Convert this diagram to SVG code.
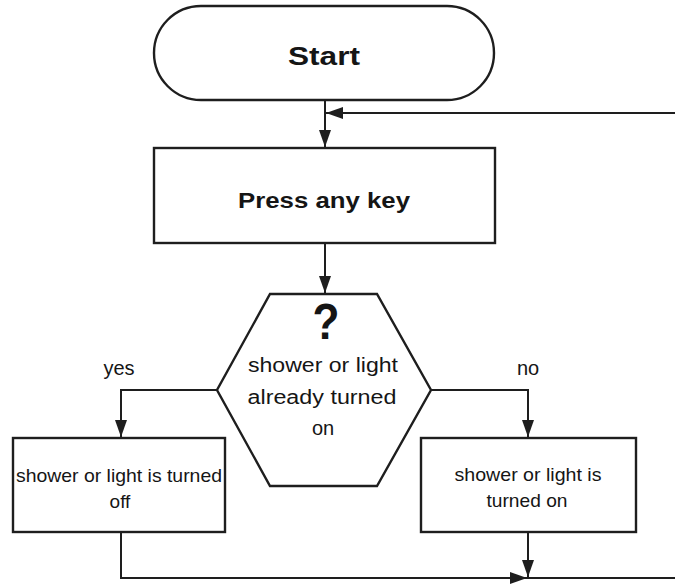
<svg xmlns="http://www.w3.org/2000/svg" width="675" height="586" viewBox="0 0 675 586">
<style>
.s{fill:#fff;stroke:#1e1e1e;stroke-width:2.4}
.c{fill:none;stroke:#1e1e1e;stroke-width:2}
text{font-family:"Liberation Sans",Arial,sans-serif;fill:#151515;text-anchor:middle}
.b{font-weight:bold}
.t{font-size:20px}
.sm{font-size:19px}
</style>
<defs>
<marker id="ah" viewBox="0 0 17 12" refX="17" refY="6" markerWidth="17" markerHeight="12" markerUnits="userSpaceOnUse" orient="auto">
<path d="M0,0L17,6L0,12z" fill="#1e1e1e"/>
</marker>
</defs>
<g id="connectors">
<path class="c" d="M325,100V147" marker-end="url(#ah)"/>
<path class="c" d="M675,113H326" marker-end="url(#ah)"/>
<path class="c" d="M325,243V293" marker-end="url(#ah)"/>
<path class="c" d="M217,390H121V437" marker-end="url(#ah)"/>
<path class="c" d="M431,390H528V437" marker-end="url(#ah)"/>
<path class="c" d="M528,532V577" marker-end="url(#ah)"/>
<path class="c" d="M121,532V578H527" marker-end="url(#ah)"/>
<path class="c" d="M527,578H675"/>
</g>
<g id="start">
<rect class="s" x="154" y="6" width="340" height="94" rx="47"/>
<text class="b" x="324" y="65" font-size="25" textLength="72" lengthAdjust="spacingAndGlyphs">Start</text>
</g>
<g id="press">
<rect class="s" x="154" y="148" width="341" height="95"/>
<text class="b" x="324" y="208" font-size="22" textLength="172" lengthAdjust="spacingAndGlyphs">Press any key</text>
</g>
<g id="decision">
<polygon class="s" points="270,294 377,294 431,390 377,486 270,486 217,390"/>
<text class="b" x="326" y="339" font-size="50" textLength="27" lengthAdjust="spacingAndGlyphs">?</text>
<text class="t" x="323" y="372" textLength="150" lengthAdjust="spacingAndGlyphs">shower or light</text>
<text class="t" x="322" y="404" textLength="149" lengthAdjust="spacingAndGlyphs">already turned</text>
<text class="t" x="323" y="435">on</text>
</g>
<text class="t" x="119" y="375">yes</text>
<text class="t" x="528" y="375">no</text>
<g id="off">
<rect class="s" x="13" y="438" width="212" height="94"/>
<text class="sm" x="119" y="482" textLength="206" lengthAdjust="spacingAndGlyphs">shower or light is turned</text>
<text class="sm" x="120" y="508">off</text>
</g>
<g id="on">
<rect class="s" x="421" y="438" width="215" height="94"/>
<text class="sm" x="528" y="481" textLength="147" lengthAdjust="spacingAndGlyphs">shower or light is</text>
<text class="sm" x="527" y="507" textLength="81" lengthAdjust="spacingAndGlyphs">turned on</text>
</g>
</svg>
